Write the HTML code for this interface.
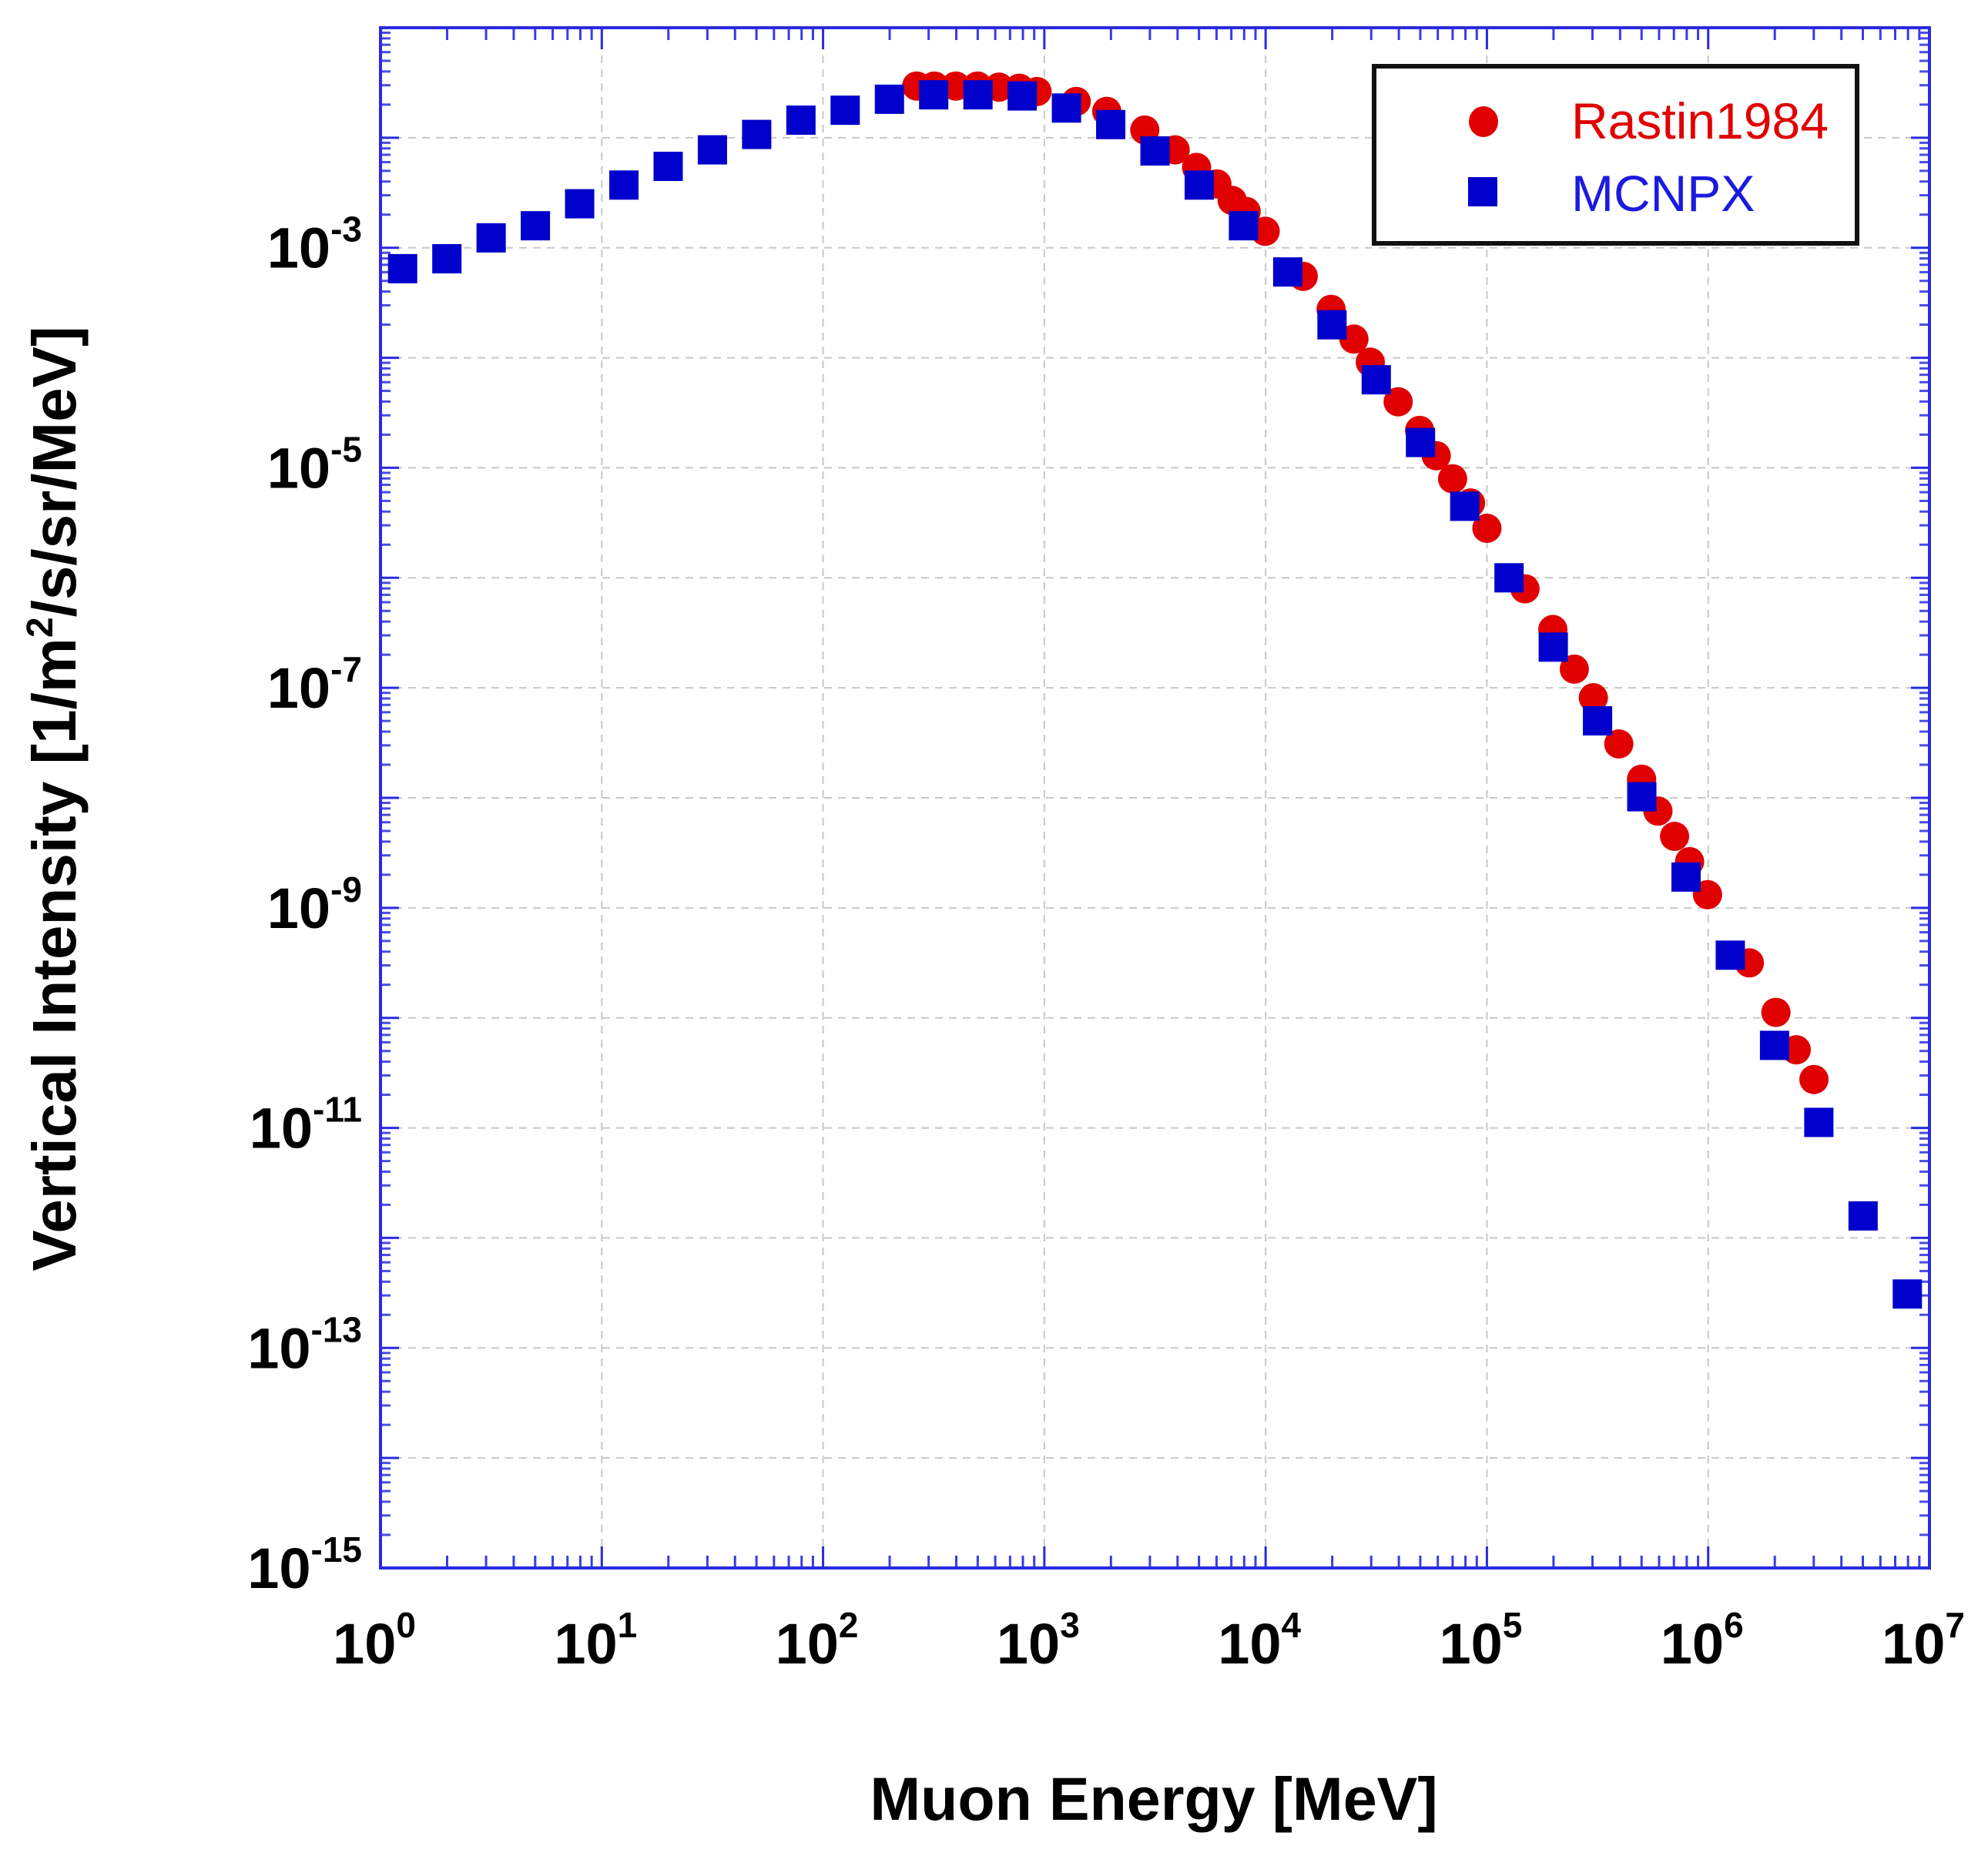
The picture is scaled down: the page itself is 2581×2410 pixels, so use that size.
<!DOCTYPE html>
<html><head><meta charset="utf-8"><style>
html,body{margin:0;padding:0;background:#fff;}
svg{display:block;font-family:"Liberation Sans",Arial,sans-serif;}
</style></head><body>
<svg id="chart" width="2581" height="2410" viewBox="0 0 2581 2410" xmlns="http://www.w3.org/2000/svg">
<g id="grid"></g>
<g id="ticks"></g>
<g id="labels"></g>
<g id="marks"></g>
<rect x="494" y="36" width="2011" height="2000" fill="none" stroke="#2a2ae0" stroke-width="4"/>
<g>
<rect x="1784" y="86" width="627" height="230" fill="#fff" stroke="#111" stroke-width="6"/>
<ellipse cx="1926" cy="158" rx="19" ry="20" fill="#e00000"/>
<text x="2040" y="180" font-size="66" fill="#e00000">Rastin1984</text>
<rect x="1906" y="230" width="38" height="38" fill="#0000cc"/>
<text x="2040" y="274" font-size="66" fill="#1a1ae0">MCNPX</text>
</g>
<text x="1498" y="2363" font-size="79" font-weight="bold" text-anchor="middle">Muon Energy [MeV]</text>
<text transform="translate(98,1037) rotate(-90)" font-size="80" font-weight="bold" text-anchor="middle">Vertical Intensity [1/m<tspan font-size="48" dy="-30">2</tspan><tspan dy="30">/s/sr/MeV]</tspan></text>
</svg>
<script>
const xDecades = [0,1,2,3,4,5,6,7];
const yLabelExps = [-3,-5,-7,-9,-11,-13,-15];
const mcnpxLogE = [0.1,0.3,0.5,0.7,0.9,1.1,1.3,1.5,1.7,1.9,2.1,2.3,2.5,2.7,2.9,3.1,3.3,3.5,3.7,3.9,4.1,4.3,4.5,4.7,4.9,5.1,5.3,5.5,5.7,5.9,6.1,6.3,6.5,6.7,6.9];
const mcnpxLogI = [-3.19,-3.10,-2.91,-2.80,-2.60,-2.43,-2.26,-2.11,-1.97,-1.84,-1.75,-1.65,-1.61,-1.61,-1.62,-1.73,-1.88,-2.12,-2.43,-2.80,-3.22,-3.70,-4.20,-4.77,-5.35,-6.00,-6.63,-7.30,-7.99,-8.72,-9.43,-10.25,-10.95,-11.80,-12.51];
const rastinLogE = [2.423,2.503,2.600,2.698,2.795,2.887,2.967,3.144,3.282,3.454,3.591,3.688,3.780,3.849,3.912,3.998,4.170,4.296,4.399,4.473,4.599,4.696,4.771,4.845,4.926,5.000,5.172,5.298,5.395,5.481,5.596,5.699,5.773,5.848,5.916,5.997,6.186,6.306,6.398,6.478];
const rastinLogI = [-1.53,-1.53,-1.53,-1.53,-1.54,-1.55,-1.58,-1.67,-1.76,-1.93,-2.11,-2.27,-2.42,-2.57,-2.67,-2.85,-3.26,-3.56,-3.83,-4.04,-4.40,-4.66,-4.89,-5.10,-5.32,-5.55,-6.10,-6.47,-6.83,-7.09,-7.51,-7.83,-8.12,-8.35,-8.58,-8.88,-9.50,-9.95,-10.29,-10.56];

const L=494,R=2505,T=36,B=2036, XMIN=0,XMAX=7,YMIN=-15,YMAX=-1;
const sx = v => L + (v-XMIN)/(XMAX-XMIN)*(R-L);
const sy = v => B - (v-YMIN)/(YMAX-YMIN)*(B-T);
const NS="http://www.w3.org/2000/svg";
function mk(tag, parent, attrs){const e=document.createElementNS(NS,tag);for(const k in attrs)e.setAttribute(k,attrs[k]);parent.appendChild(e);return e;}
const grid=document.getElementById('grid'), ticks=document.getElementById('ticks'), labels=document.getElementById('labels'), marks=document.getElementById('marks');

for(let d=XMIN; d<=XMAX; d++){
  const x=sx(d);
  if(d>XMIN && d<XMAX){
    const g=mk('line',grid,{x1:x,y1:T,x2:x,y2:B,stroke:'#c8c8c8','stroke-width':2,'stroke-dasharray':'10,8'});
    
    
  }
  mk('line',ticks,{x1:x,y1:B,x2:x,y2:B-28,stroke:'#2a2ae0','stroke-width':3});
  mk('line',ticks,{x1:x,y1:T,x2:x,y2:T+28,stroke:'#2a2ae0','stroke-width':3});
  if(d<XMAX){for(let m=2;m<=9;m++){const xm=sx(d+Math.log10(m));
    mk('line',ticks,{x1:xm,y1:B,x2:xm,y2:B-16,stroke:'#3a3ae8','stroke-width':3});
    mk('line',ticks,{x1:xm,y1:T,x2:xm,y2:T+16,stroke:'#3a3ae8','stroke-width':3});}}
}
for(let d=YMIN; d<=YMAX; d++){
  const y=sy(d);
  if(d>YMIN && d<YMAX){
    const g=mk('line',grid,{x1:L,y1:y,x2:R,y2:y,stroke:'#c8c8c8','stroke-width':2,'stroke-dasharray':'10,8'});
    
    
  }
  mk('line',ticks,{x1:L,y1:y,x2:L+24,y2:y,stroke:'#2a2ae0','stroke-width':3});
  mk('line',ticks,{x1:R,y1:y,x2:R-24,y2:y,stroke:'#2a2ae0','stroke-width':3});
  if(d<YMAX){for(let m=2;m<=9;m++){const ym=sy(d+Math.log10(m));
    mk('line',ticks,{x1:L,y1:ym,x2:L+13,y2:ym,stroke:'#4a4ae8','stroke-width':3});
    mk('line',ticks,{x1:R,y1:ym,x2:R-13,y2:ym,stroke:'#4a4ae8','stroke-width':3});}}
}
xDecades.forEach(d=>{
  const t=mk('text',labels,{x:sx(d)-8,y:2160,'font-size':74,'font-weight':'bold','text-anchor':'middle'});
  
  
  t.textContent='10';
  const s=mk('tspan',t,{'font-size':46,dy:-34}); s.textContent=String(d);
});
yLabelExps.forEach(d=>{
  const t=mk('text',labels,{x:470,y:sy(d)+26,'font-size':74,'font-weight':'bold','text-anchor':'end'});
  
  
  t.textContent='10';
  const s=mk('tspan',t,{'font-size':46,dy:-34}); s.textContent=String(d);
});
rastinLogE.forEach((e,i)=>{
  const c=mk('ellipse',marks,{cx:sx(e),cy:sy(rastinLogI[i]),rx:19,ry:19,fill:'#e00000'});
  
  
});
mcnpxLogE.forEach((e,i)=>{
  const r=mk('rect',marks,{x:sx(e)-19,y:sy(mcnpxLogI[i])-19,width:38,height:38,fill:'#0000cc'});
  
  
});
</script>
</body></html>
